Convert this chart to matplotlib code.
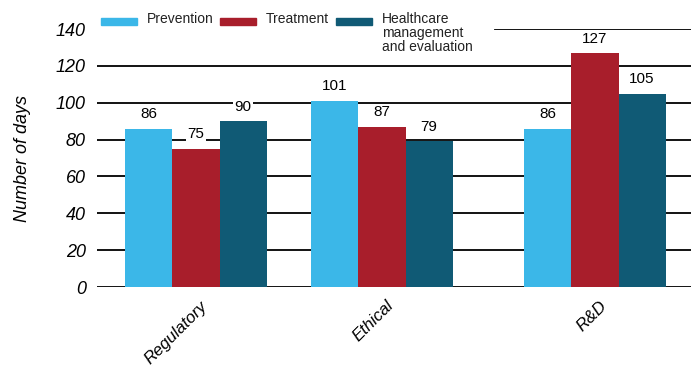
import numpy as np
import matplotlib.pyplot as plt
import matplotlib.transforms as mtransforms
from matplotlib.patches import Rectangle

plt.rcParams['font.family'] = ['Liberation Sans', 'DejaVu Sans']

# days per review stage, by research area
stages = ["Regulatory", "Ethical", "R&D"]
prevention = [86, 101, 86]
treatment = [75, 87, 127]
healthcare = [90, 79, 105]
series_names = ["Prevention", "Treatment", "Healthcare\nmanagement\nand evaluation"]
colors = ["#3bb7e8", "#a81e2b", "#105a75"]
yticks = [0, 20, 40, 60, 80, 100, 120, 140]

# group centres (R&D sits a little further out)
xpos = np.array([0, 1, 2.145])
width = 0.253

W, H = 691, 369
fig = plt.figure(figsize=(W / 100, H / 100), dpi=100)
ax = fig.add_axes([97 / W, 1 - 287 / H, 594 / W, 258 / H])

for i, vals in enumerate([prevention, treatment, healthcare]):
    bars = ax.bar(xpos + (i - 1) * width, vals, width, color=colors[i], zorder=2)
    for b, v in zip(bars, vals):
        ax.text(b.get_x() + b.get_width() / 2, v + 7.8, str(v), ha='center',
                va='center', fontsize=11, zorder=4,
                bbox=dict(facecolor='white', edgecolor='none', pad=1))

ax.set_ylim(0, 140)
ax.set_xlim(-0.532, 2.661)
ax.set_yticks(yticks)
ax.set_yticklabels([str(t) for t in yticks], fontstyle='italic', fontsize=13)
ax.set_xticks(xpos)
ax.set_xticklabels(stages, fontstyle='italic', fontsize=12.2, rotation=45,
                   ha='right', va='top', rotation_mode='anchor')
ax.tick_params(length=0, pad=8)
ax.tick_params(axis='x', pad=8)
shift = mtransforms.ScaledTranslation(4 / 100, 0, fig.dpi_scale_trans)
for lab in ax.get_xticklabels():
    lab.set_transform(lab.get_transform() + shift)

# gridlines; the top one stops short where the legend sits
for t in yticks[:-1]:
    ax.axhline(t, color='black', lw=1.3, zorder=1)
ax.axhline(yticks[-1], xmin=(495 - 97) / 594, color='black', lw=1.3, zorder=1)
for s in ax.spines.values():
    s.set_visible(False)
ax.set_ylabel("Number of days", fontstyle='italic', fontsize=13, labelpad=18)

# legend row across the top
leg_x = [101, 220, 336]
for x0, c, name in zip(leg_x, colors, series_names):
    fig.add_artist(Rectangle((x0 / W, 1 - 24.5 / H), 36 / W, 6.5 / H,
                             color=c, transform=fig.transFigure))
    fig.text((x0 + 46) / W, 1 - 12 / H, name, ha='left', va='top',
             fontsize=10, linespacing=0.98, color='#222222')

fig.savefig("out.png", dpi=100)
